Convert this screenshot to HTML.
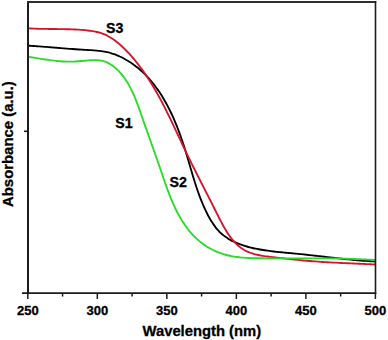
<!DOCTYPE html>
<html><head><meta charset="utf-8"><style>
html,body{margin:0;padding:0;background:#fff;}
body{width:388px;height:340px;overflow:hidden;}
svg{display:block;font-family:"Liberation Sans",sans-serif;font-weight:bold;}
text{stroke:#000;stroke-width:0.3px;}
</style></head><body>
<svg width="388" height="340" viewBox="0 0 388 340">
<rect width="388" height="340" fill="#fff"/>
<g fill="none" stroke-linejoin="round" stroke-linecap="round" stroke-width="1.85">
<path d="M28.01,45.61 C28.50,45.64 29.98,45.74 30.97,45.80 C31.95,45.87 32.94,45.94 33.93,46.01 C34.92,46.08 35.91,46.16 36.90,46.23 C37.89,46.30 38.88,46.38 39.87,46.45 C40.86,46.53 41.85,46.60 42.84,46.68 C43.83,46.76 44.83,46.84 45.82,46.92 C46.81,46.99 47.80,47.07 48.80,47.15 C49.79,47.23 50.79,47.31 51.78,47.39 C52.78,47.47 53.77,47.55 54.77,47.63 C55.77,47.71 56.76,47.79 57.76,47.87 C58.76,47.95 59.75,48.03 60.75,48.11 C61.75,48.19 62.75,48.27 63.74,48.35 C64.74,48.43 65.74,48.51 66.74,48.58 C67.74,48.66 68.74,48.74 69.74,48.81 C70.74,48.89 71.74,48.96 72.74,49.03 C73.74,49.11 74.74,49.18 75.74,49.25 C76.74,49.32 77.74,49.39 78.74,49.46 C79.74,49.53 80.74,49.59 81.75,49.66 C82.75,49.72 83.75,49.79 84.75,49.85 C85.75,49.91 86.76,49.97 87.76,50.02 C88.76,50.08 89.76,50.14 90.76,50.20 C91.76,50.26 92.76,50.33 93.76,50.40 C94.76,50.47 95.75,50.55 96.75,50.64 C97.74,50.73 98.73,50.82 99.72,50.94 C100.71,51.05 101.70,51.18 102.68,51.32 C103.66,51.47 104.63,51.63 105.61,51.82 C106.58,52.01 107.55,52.23 108.51,52.47 C109.47,52.71 110.43,52.98 111.38,53.27 C112.33,53.56 113.28,53.87 114.22,54.21 C115.16,54.54 116.09,54.90 117.01,55.28 C117.94,55.66 118.86,56.06 119.76,56.48 C120.67,56.90 121.57,57.34 122.47,57.79 C123.36,58.25 124.24,58.72 125.11,59.21 C125.99,59.70 126.85,60.21 127.70,60.72 C128.56,61.24 129.40,61.78 130.23,62.33 C131.06,62.87 131.88,63.43 132.69,64.00 C133.50,64.58 134.30,65.16 135.09,65.76 C135.87,66.35 136.65,66.96 137.42,67.58 C138.18,68.20 138.94,68.83 139.68,69.47 C140.42,70.11 141.16,70.76 141.88,71.42 C142.60,72.08 143.32,72.76 144.02,73.44 C144.72,74.12 145.41,74.82 146.10,75.52 C146.78,76.22 147.45,76.94 148.12,77.66 C148.78,78.38 149.43,79.11 150.08,79.85 C150.72,80.59 151.36,81.34 151.98,82.10 C152.61,82.86 153.22,83.63 153.83,84.40 C154.44,85.18 155.04,85.96 155.63,86.75 C156.22,87.54 156.80,88.34 157.37,89.15 C157.94,89.96 158.50,90.77 159.06,91.59 C159.61,92.41 160.16,93.24 160.70,94.08 C161.24,94.91 161.77,95.76 162.29,96.60 C162.81,97.45 163.33,98.31 163.84,99.17 C164.34,100.03 164.84,100.89 165.33,101.77 C165.82,102.64 166.31,103.52 166.79,104.40 C167.26,105.28 167.73,106.17 168.19,107.06 C168.66,107.96 169.11,108.86 169.56,109.76 C170.01,110.66 170.45,111.57 170.89,112.48 C171.32,113.39 171.75,114.30 172.17,115.22 C172.59,116.14 173.01,117.06 173.42,117.99 C173.83,118.91 174.23,119.84 174.63,120.77 C175.03,121.70 175.42,122.64 175.80,123.58 C176.19,124.51 176.57,125.45 176.94,126.39 C177.32,127.34 177.68,128.28 178.05,129.23 C178.41,130.17 178.77,131.12 179.12,132.07 C179.47,133.02 179.82,133.97 180.16,134.92 C180.51,135.87 180.85,136.82 181.18,137.77 C181.51,138.73 181.84,139.68 182.16,140.63 C182.49,141.59 182.81,142.54 183.12,143.49 C183.44,144.45 183.75,145.40 184.06,146.35 C184.36,147.31 184.67,148.26 184.96,149.21 C185.26,150.16 185.56,151.11 185.85,152.06 C186.14,153.01 186.43,153.96 186.72,154.91 C187.00,155.85 187.28,156.80 187.56,157.74 C187.84,158.69 188.12,159.63 188.40,160.57 C188.68,161.52 188.95,162.46 189.22,163.40 C189.50,164.34 189.77,165.28 190.05,166.22 C190.32,167.16 190.59,168.10 190.87,169.04 C191.14,169.98 191.42,170.92 191.69,171.85 C191.97,172.79 192.25,173.73 192.53,174.66 C192.81,175.60 193.09,176.54 193.37,177.47 C193.66,178.41 193.94,179.34 194.23,180.28 C194.52,181.21 194.82,182.15 195.11,183.08 C195.41,184.02 195.71,184.95 196.02,185.89 C196.33,186.82 196.64,187.76 196.95,188.69 C197.27,189.63 197.59,190.57 197.92,191.50 C198.25,192.44 198.58,193.37 198.93,194.31 C199.27,195.25 199.61,196.18 199.97,197.12 C200.33,198.06 200.69,198.99 201.06,199.93 C201.43,200.87 201.81,201.81 202.20,202.75 C202.59,203.69 202.99,204.63 203.39,205.57 C203.80,206.51 204.22,207.45 204.64,208.39 C205.07,209.33 205.51,210.28 205.96,211.21 C206.40,212.15 206.86,213.08 207.34,214.01 C207.81,214.93 208.29,215.85 208.79,216.76 C209.28,217.67 209.79,218.57 210.31,219.46 C210.83,220.35 211.37,221.23 211.92,222.09 C212.47,222.95 213.03,223.80 213.61,224.63 C214.19,225.45 214.78,226.27 215.39,227.06 C216.00,227.85 216.63,228.62 217.27,229.36 C217.91,230.11 218.57,230.83 219.25,231.53 C219.92,232.23 220.62,232.90 221.33,233.54 C222.04,234.18 222.77,234.80 223.51,235.39 C224.25,235.99 225.01,236.55 225.79,237.10 C226.57,237.64 227.36,238.16 228.16,238.66 C228.97,239.16 229.79,239.64 230.62,240.09 C231.45,240.55 232.30,240.99 233.16,241.41 C234.01,241.83 234.89,242.23 235.77,242.61 C236.65,243.00 237.55,243.36 238.45,243.71 C239.35,244.07 240.27,244.40 241.20,244.73 C242.12,245.05 243.06,245.36 244.00,245.66 C244.94,245.95 245.89,246.24 246.85,246.51 C247.81,246.78 248.78,247.04 249.75,247.29 C250.72,247.54 251.70,247.77 252.68,248.00 C253.67,248.22 254.66,248.44 255.65,248.64 C256.64,248.85 257.64,249.05 258.64,249.23 C259.64,249.42 260.65,249.60 261.65,249.77 C262.66,249.94 263.67,250.10 264.68,250.25 C265.69,250.41 266.70,250.56 267.70,250.70 C268.71,250.84 269.72,250.97 270.73,251.10 C271.74,251.23 272.75,251.35 273.75,251.47 C274.76,251.59 275.77,251.71 276.77,251.82 C277.77,251.93 278.78,252.03 279.78,252.14 C280.78,252.24 281.79,252.34 282.79,252.44 C283.79,252.53 284.79,252.63 285.79,252.72 C286.79,252.82 287.78,252.91 288.78,253.00 C289.78,253.09 290.77,253.19 291.77,253.28 C292.77,253.37 293.76,253.46 294.76,253.55 C295.75,253.65 296.74,253.74 297.73,253.84 C298.73,253.93 299.72,254.03 300.71,254.13 C301.70,254.23 302.69,254.33 303.68,254.43 C304.67,254.54 305.66,254.64 306.64,254.75 C307.63,254.85 308.62,254.96 309.61,255.07 C310.59,255.18 311.58,255.29 312.57,255.40 C313.55,255.51 314.54,255.62 315.52,255.73 C316.51,255.84 317.49,255.96 318.48,256.07 C319.46,256.18 320.45,256.30 321.43,256.41 C322.42,256.53 323.40,256.64 324.38,256.75 C325.37,256.87 326.35,256.98 327.34,257.10 C328.32,257.21 329.30,257.33 330.29,257.44 C331.27,257.55 332.26,257.67 333.24,257.78 C334.23,257.89 335.21,258.00 336.20,258.11 C337.18,258.22 338.17,258.33 339.16,258.44 C340.14,258.55 341.13,258.66 342.12,258.77 C343.10,258.87 344.09,258.98 345.08,259.08 C346.07,259.18 347.06,259.29 348.05,259.39 C349.04,259.49 350.03,259.59 351.02,259.68 C352.01,259.78 353.00,259.87 353.99,259.97 C354.99,260.06 355.98,260.15 356.98,260.24 C357.97,260.32 358.97,260.41 359.96,260.49 C360.96,260.57 361.96,260.65 362.96,260.73 C363.95,260.81 364.95,260.88 365.96,260.95 C366.96,261.02 367.96,261.09 368.96,261.15 C369.97,261.22 370.97,261.28 371.98,261.34 C372.99,261.40 374.50,261.47 375.00,261.50" stroke="#000"/>
<path d="M28.00,28.30 C28.50,28.32 29.98,28.42 30.97,28.47 C31.96,28.52 32.95,28.57 33.94,28.61 C34.93,28.65 35.93,28.69 36.92,28.72 C37.91,28.75 38.90,28.78 39.90,28.81 C40.89,28.83 41.89,28.86 42.88,28.88 C43.88,28.90 44.87,28.91 45.87,28.93 C46.87,28.94 47.86,28.95 48.86,28.97 C49.86,28.98 50.86,28.99 51.86,29.00 C52.86,29.01 53.86,29.02 54.86,29.03 C55.86,29.04 56.86,29.05 57.86,29.06 C58.86,29.07 59.86,29.09 60.86,29.10 C61.86,29.11 62.87,29.13 63.87,29.15 C64.87,29.17 65.87,29.19 66.88,29.21 C67.88,29.24 68.88,29.26 69.89,29.29 C70.89,29.33 71.90,29.36 72.90,29.40 C73.90,29.44 74.91,29.48 75.91,29.53 C76.92,29.58 77.92,29.64 78.93,29.70 C79.93,29.76 80.94,29.83 81.94,29.90 C82.95,29.98 83.96,30.06 84.96,30.15 C85.96,30.25 86.96,30.35 87.96,30.47 C88.95,30.58 89.95,30.71 90.93,30.86 C91.92,31.01 92.90,31.17 93.88,31.36 C94.85,31.55 95.82,31.75 96.78,31.98 C97.74,32.20 98.69,32.45 99.63,32.73 C100.57,33.01 101.50,33.31 102.42,33.64 C103.33,33.97 104.24,34.33 105.13,34.72 C106.02,35.11 106.90,35.53 107.77,35.98 C108.63,36.43 109.48,36.91 110.33,37.42 C111.17,37.92 111.99,38.45 112.81,39.00 C113.63,39.55 114.43,40.13 115.23,40.72 C116.02,41.32 116.81,41.93 117.58,42.56 C118.35,43.19 119.11,43.84 119.87,44.50 C120.62,45.16 121.36,45.84 122.10,46.53 C122.83,47.21 123.55,47.91 124.27,48.62 C124.99,49.32 125.69,50.04 126.39,50.76 C127.09,51.48 127.79,52.21 128.47,52.94 C129.15,53.67 129.83,54.41 130.50,55.15 C131.17,55.90 131.83,56.65 132.48,57.40 C133.13,58.16 133.78,58.92 134.42,59.68 C135.06,60.45 135.69,61.22 136.32,61.99 C136.94,62.77 137.56,63.55 138.17,64.33 C138.78,65.12 139.39,65.91 139.99,66.71 C140.59,67.50 141.18,68.30 141.76,69.10 C142.35,69.91 142.93,70.72 143.51,71.53 C144.08,72.34 144.65,73.16 145.21,73.98 C145.77,74.80 146.33,75.63 146.88,76.46 C147.43,77.29 147.98,78.12 148.52,78.96 C149.06,79.79 149.60,80.63 150.13,81.48 C150.66,82.32 151.18,83.17 151.70,84.02 C152.22,84.87 152.74,85.72 153.25,86.58 C153.76,87.44 154.27,88.30 154.77,89.16 C155.27,90.03 155.77,90.89 156.27,91.76 C156.76,92.63 157.25,93.50 157.74,94.38 C158.23,95.25 158.71,96.13 159.19,97.00 C159.67,97.88 160.14,98.77 160.61,99.65 C161.09,100.53 161.55,101.42 162.02,102.30 C162.49,103.19 162.95,104.08 163.41,104.97 C163.87,105.86 164.32,106.76 164.78,107.65 C165.23,108.55 165.68,109.44 166.13,110.34 C166.58,111.24 167.03,112.14 167.47,113.04 C167.92,113.94 168.36,114.84 168.80,115.74 C169.24,116.64 169.68,117.54 170.12,118.45 C170.55,119.35 170.99,120.26 171.42,121.16 C171.85,122.07 172.29,122.97 172.72,123.88 C173.15,124.78 173.58,125.69 174.01,126.60 C174.43,127.50 174.86,128.41 175.29,129.32 C175.72,130.23 176.14,131.13 176.57,132.04 C176.99,132.95 177.42,133.85 177.84,134.76 C178.27,135.67 178.69,136.57 179.11,137.48 C179.54,138.38 179.96,139.29 180.39,140.19 C180.81,141.09 181.23,142.00 181.66,142.90 C182.08,143.80 182.51,144.70 182.93,145.60 C183.36,146.50 183.79,147.40 184.21,148.30 C184.64,149.20 185.07,150.09 185.50,150.99 C185.93,151.88 186.36,152.78 186.79,153.67 C187.22,154.56 187.65,155.45 188.09,156.34 C188.52,157.23 188.95,158.12 189.39,159.00 C189.82,159.89 190.26,160.78 190.70,161.66 C191.13,162.55 191.57,163.43 192.01,164.32 C192.45,165.20 192.89,166.08 193.33,166.97 C193.77,167.85 194.21,168.73 194.65,169.62 C195.10,170.50 195.54,171.38 195.98,172.26 C196.43,173.14 196.87,174.03 197.32,174.91 C197.76,175.79 198.21,176.67 198.65,177.55 C199.10,178.44 199.55,179.32 200.00,180.20 C200.45,181.08 200.90,181.97 201.34,182.85 C201.79,183.74 202.25,184.62 202.70,185.51 C203.15,186.39 203.60,187.28 204.05,188.16 C204.50,189.05 204.96,189.94 205.41,190.83 C205.86,191.72 206.32,192.61 206.77,193.50 C207.23,194.39 207.68,195.28 208.14,196.18 C208.59,197.07 209.05,197.97 209.51,198.87 C209.96,199.76 210.42,200.66 210.88,201.56 C211.33,202.46 211.79,203.37 212.25,204.27 C212.71,205.18 213.17,206.08 213.63,206.99 C214.09,207.90 214.55,208.81 215.01,209.73 C215.47,210.64 215.93,211.56 216.39,212.47 C216.85,213.39 217.31,214.31 217.77,215.23 C218.24,216.15 218.70,217.08 219.17,218.00 C219.63,218.92 220.10,219.84 220.58,220.75 C221.06,221.67 221.53,222.58 222.02,223.48 C222.50,224.39 222.99,225.29 223.49,226.18 C223.99,227.07 224.50,227.96 225.01,228.83 C225.52,229.70 226.04,230.57 226.58,231.42 C227.11,232.27 227.65,233.12 228.20,233.94 C228.76,234.77 229.32,235.58 229.90,236.38 C230.47,237.17 231.06,237.95 231.67,238.72 C232.27,239.48 232.89,240.22 233.52,240.95 C234.15,241.67 234.80,242.38 235.46,243.06 C236.13,243.74 236.81,244.40 237.51,245.03 C238.21,245.67 238.92,246.28 239.66,246.86 C240.40,247.45 241.15,248.01 241.93,248.54 C242.71,249.07 243.50,249.57 244.32,250.04 C245.14,250.51 245.98,250.95 246.85,251.36 C247.71,251.77 248.60,252.14 249.50,252.49 C250.41,252.84 251.34,253.16 252.28,253.46 C253.22,253.76 254.18,254.03 255.15,254.29 C256.12,254.54 257.11,254.77 258.10,254.98 C259.09,255.20 260.10,255.39 261.12,255.57 C262.13,255.75 263.15,255.92 264.18,256.07 C265.20,256.23 266.23,256.37 267.27,256.51 C268.30,256.64 269.33,256.77 270.37,256.89 C271.40,257.02 272.43,257.13 273.46,257.25 C274.49,257.37 275.51,257.49 276.53,257.60 C277.55,257.72 278.56,257.83 279.57,257.95 C280.58,258.06 281.59,258.18 282.60,258.29 C283.60,258.40 284.60,258.51 285.60,258.62 C286.59,258.74 287.59,258.85 288.58,258.95 C289.57,259.06 290.56,259.17 291.55,259.27 C292.54,259.38 293.52,259.48 294.51,259.59 C295.49,259.69 296.47,259.79 297.46,259.89 C298.44,259.99 299.42,260.09 300.40,260.18 C301.38,260.28 302.36,260.37 303.34,260.46 C304.32,260.55 305.30,260.64 306.28,260.73 C307.26,260.82 308.24,260.90 309.23,260.98 C310.21,261.07 311.19,261.15 312.18,261.23 C313.16,261.30 314.15,261.38 315.14,261.45 C316.13,261.52 317.12,261.59 318.11,261.66 C319.10,261.73 320.09,261.80 321.08,261.86 C322.07,261.93 323.07,261.99 324.06,262.05 C325.06,262.11 326.05,262.17 327.05,262.22 C328.04,262.28 329.04,262.34 330.04,262.39 C331.04,262.45 332.04,262.50 333.04,262.55 C334.03,262.60 335.03,262.65 336.03,262.70 C337.03,262.75 338.03,262.80 339.04,262.85 C340.04,262.89 341.04,262.94 342.04,262.99 C343.04,263.03 344.04,263.08 345.04,263.12 C346.05,263.17 347.05,263.21 348.05,263.26 C349.05,263.30 350.05,263.34 351.05,263.39 C352.06,263.43 353.06,263.47 354.06,263.52 C355.06,263.56 356.06,263.61 357.06,263.65 C358.06,263.69 359.06,263.74 360.06,263.78 C361.06,263.83 362.06,263.87 363.06,263.92 C364.06,263.96 365.05,264.01 366.05,264.06 C367.05,264.10 368.04,264.15 369.04,264.20 C370.03,264.25 371.03,264.30 372.02,264.35 C373.02,264.40 374.50,264.48 375.00,264.50" stroke="#d2152a"/>
<path d="M28.01,56.80 C28.49,56.88 29.92,57.10 30.89,57.25 C31.85,57.40 32.81,57.56 33.78,57.71 C34.75,57.86 35.73,58.02 36.70,58.17 C37.68,58.33 38.66,58.48 39.64,58.63 C40.62,58.78 41.61,58.93 42.59,59.08 C43.58,59.23 44.57,59.37 45.57,59.51 C46.56,59.65 47.55,59.79 48.55,59.93 C49.55,60.06 50.55,60.19 51.55,60.31 C52.55,60.43 53.55,60.55 54.56,60.66 C55.56,60.77 56.57,60.88 57.57,60.98 C58.58,61.07 59.59,61.17 60.60,61.24 C61.61,61.32 62.62,61.40 63.63,61.46 C64.64,61.51 65.65,61.56 66.66,61.59 C67.67,61.63 68.68,61.65 69.69,61.65 C70.71,61.65 71.72,61.63 72.73,61.60 C73.74,61.57 74.75,61.52 75.76,61.46 C76.77,61.40 77.78,61.33 78.79,61.25 C79.80,61.17 80.81,61.08 81.82,60.99 C82.82,60.90 83.83,60.80 84.83,60.71 C85.84,60.62 86.84,60.52 87.84,60.44 C88.84,60.36 89.84,60.27 90.84,60.21 C91.83,60.16 92.82,60.11 93.80,60.09 C94.79,60.08 95.77,60.08 96.74,60.12 C97.70,60.17 98.67,60.24 99.62,60.36 C100.57,60.49 101.51,60.65 102.44,60.87 C103.37,61.09 104.29,61.36 105.20,61.69 C106.10,62.02 107.00,62.41 107.87,62.84 C108.75,63.27 109.61,63.76 110.45,64.28 C111.30,64.80 112.13,65.37 112.93,65.97 C113.74,66.56 114.53,67.20 115.30,67.85 C116.07,68.51 116.82,69.20 117.55,69.90 C118.27,70.60 118.97,71.32 119.65,72.06 C120.33,72.79 120.99,73.55 121.63,74.31 C122.26,75.07 122.87,75.85 123.47,76.64 C124.07,77.43 124.64,78.23 125.20,79.04 C125.75,79.85 126.29,80.68 126.82,81.52 C127.34,82.35 127.85,83.20 128.34,84.05 C128.83,84.91 129.31,85.77 129.78,86.65 C130.24,87.52 130.69,88.40 131.14,89.30 C131.58,90.19 132.01,91.08 132.43,91.99 C132.85,92.89 133.26,93.81 133.67,94.72 C134.07,95.64 134.47,96.57 134.85,97.50 C135.24,98.42 135.62,99.36 135.99,100.30 C136.37,101.23 136.73,102.18 137.09,103.12 C137.45,104.07 137.81,105.01 138.16,105.96 C138.51,106.91 138.85,107.87 139.20,108.82 C139.54,109.77 139.88,110.73 140.21,111.69 C140.55,112.64 140.88,113.60 141.22,114.55 C141.55,115.51 141.88,116.46 142.21,117.41 C142.54,118.36 142.87,119.32 143.20,120.26 C143.53,121.21 143.86,122.16 144.19,123.10 C144.52,124.05 144.85,124.99 145.18,125.93 C145.51,126.87 145.84,127.81 146.17,128.75 C146.51,129.68 146.84,130.62 147.17,131.55 C147.50,132.49 147.83,133.42 148.16,134.35 C148.49,135.29 148.83,136.22 149.16,137.15 C149.49,138.08 149.82,139.01 150.15,139.94 C150.48,140.87 150.81,141.80 151.15,142.72 C151.48,143.65 151.81,144.58 152.14,145.51 C152.47,146.44 152.80,147.37 153.13,148.30 C153.46,149.23 153.79,150.16 154.12,151.09 C154.45,152.02 154.78,152.95 155.11,153.88 C155.44,154.81 155.76,155.74 156.09,156.68 C156.42,157.61 156.75,158.55 157.07,159.48 C157.40,160.42 157.73,161.36 158.05,162.30 C158.38,163.24 158.71,164.18 159.03,165.12 C159.35,166.07 159.68,167.01 160.00,167.96 C160.33,168.91 160.65,169.86 160.97,170.81 C161.29,171.76 161.62,172.71 161.94,173.67 C162.26,174.62 162.59,175.57 162.91,176.53 C163.24,177.48 163.57,178.44 163.90,179.40 C164.22,180.35 164.56,181.31 164.89,182.26 C165.22,183.22 165.56,184.17 165.90,185.13 C166.24,186.08 166.58,187.03 166.92,187.99 C167.27,188.94 167.62,189.89 167.97,190.83 C168.32,191.78 168.68,192.73 169.04,193.67 C169.41,194.61 169.77,195.55 170.15,196.49 C170.52,197.43 170.90,198.36 171.28,199.29 C171.67,200.22 172.06,201.15 172.46,202.07 C172.85,202.99 173.26,203.91 173.67,204.82 C174.08,205.74 174.50,206.65 174.93,207.55 C175.35,208.45 175.79,209.35 176.23,210.25 C176.67,211.14 177.12,212.03 177.58,212.91 C178.05,213.79 178.51,214.66 178.99,215.53 C179.47,216.40 179.96,217.26 180.46,218.11 C180.96,218.96 181.47,219.81 181.99,220.65 C182.51,221.49 183.04,222.32 183.59,223.14 C184.13,223.96 184.68,224.78 185.25,225.58 C185.82,226.39 186.39,227.18 186.99,227.97 C187.58,228.75 188.18,229.53 188.80,230.30 C189.41,231.06 190.04,231.82 190.68,232.56 C191.33,233.30 191.98,234.03 192.65,234.75 C193.32,235.47 194.01,236.18 194.70,236.87 C195.40,237.57 196.11,238.25 196.84,238.91 C197.57,239.58 198.31,240.23 199.07,240.87 C199.83,241.51 200.60,242.13 201.39,242.74 C202.17,243.34 202.98,243.94 203.80,244.51 C204.62,245.09 205.45,245.65 206.30,246.19 C207.15,246.73 208.02,247.25 208.89,247.76 C209.77,248.27 210.66,248.75 211.56,249.22 C212.45,249.69 213.36,250.14 214.28,250.57 C215.20,251.00 216.12,251.42 217.06,251.81 C217.99,252.20 218.93,252.57 219.87,252.92 C220.81,253.26 221.76,253.59 222.71,253.90 C223.67,254.20 224.62,254.49 225.58,254.75 C226.53,255.01 227.49,255.26 228.46,255.48 C229.42,255.70 230.39,255.91 231.35,256.10 C232.32,256.29 233.29,256.46 234.27,256.61 C235.24,256.77 236.22,256.91 237.19,257.04 C238.17,257.16 239.15,257.28 240.13,257.38 C241.12,257.48 242.10,257.57 243.09,257.65 C244.07,257.72 245.06,257.79 246.05,257.85 C247.04,257.91 248.03,257.96 249.03,258.00 C250.02,258.05 251.01,258.08 252.01,258.11 C253.01,258.14 254.00,258.17 255.00,258.19 C256.00,258.21 257.00,258.23 258.00,258.24 C259.01,258.26 260.01,258.27 261.01,258.28 C262.02,258.29 263.02,258.30 264.03,258.31 C265.03,258.32 266.04,258.33 267.04,258.34 C268.05,258.35 269.06,258.35 270.07,258.36 C271.07,258.36 272.08,258.37 273.09,258.37 C274.10,258.37 275.11,258.38 276.12,258.38 C277.13,258.38 278.14,258.38 279.15,258.38 C280.15,258.39 281.16,258.39 282.17,258.39 C283.18,258.39 284.19,258.38 285.20,258.38 C286.21,258.38 287.22,258.38 288.23,258.38 C289.23,258.38 290.24,258.38 291.25,258.37 C292.25,258.37 293.26,258.37 294.27,258.37 C295.27,258.37 296.28,258.36 297.28,258.36 C298.28,258.36 299.29,258.36 300.29,258.35 C301.29,258.35 302.29,258.35 303.29,258.35 C304.29,258.35 305.29,258.35 306.28,258.34 C307.28,258.34 308.28,258.34 309.27,258.34 C310.27,258.34 311.26,258.34 312.26,258.34 C313.25,258.34 314.25,258.34 315.24,258.35 C316.23,258.35 317.23,258.35 318.22,258.35 C319.21,258.36 320.20,258.36 321.19,258.37 C322.18,258.37 323.18,258.38 324.17,258.38 C325.16,258.39 326.15,258.40 327.14,258.41 C328.13,258.41 329.12,258.42 330.11,258.44 C331.10,258.45 332.09,258.46 333.08,258.47 C334.07,258.48 335.06,258.50 336.05,258.51 C337.04,258.53 338.03,258.55 339.02,258.56 C340.01,258.58 341.00,258.60 341.99,258.62 C342.99,258.64 343.98,258.67 344.97,258.69 C345.96,258.72 346.96,258.74 347.95,258.77 C348.94,258.80 349.94,258.83 350.93,258.86 C351.93,258.89 352.92,258.92 353.92,258.96 C354.92,258.99 355.91,259.03 356.91,259.07 C357.91,259.11 358.91,259.15 359.91,259.19 C360.91,259.23 361.91,259.28 362.91,259.33 C363.92,259.37 364.92,259.42 365.92,259.47 C366.93,259.53 367.93,259.58 368.94,259.64 C369.95,259.69 370.96,259.75 371.97,259.81 C372.98,259.87 374.50,259.97 375.00,260.00" stroke="#28dc28"/>
</g>
<g stroke="#1c1c1c" fill="none">
<line x1="28" y1="1" x2="28" y2="294" stroke-width="2"/>
<line x1="27" y1="2.1" x2="376.2" y2="2.1" stroke-width="2" stroke="#2e2e2e"/>
<line x1="375.5" y1="1" x2="375.5" y2="294" stroke-width="1.6"/>
<line x1="22" y1="293.1" x2="376.2" y2="293.1" stroke-width="1.6"/>
<line x1="24" y1="131.3" x2="28" y2="131.3" stroke-width="1.6"/>
<g stroke-width="1.5"><line x1="27.80" y1="293" x2="27.80" y2="299.00"/><line x1="62.56" y1="293" x2="62.56" y2="296.50"/><line x1="97.32" y1="293" x2="97.32" y2="299.00"/><line x1="132.08" y1="293" x2="132.08" y2="296.50"/><line x1="166.84" y1="293" x2="166.84" y2="299.00"/><line x1="201.60" y1="293" x2="201.60" y2="296.50"/><line x1="236.36" y1="293" x2="236.36" y2="299.00"/><line x1="271.12" y1="293" x2="271.12" y2="296.50"/><line x1="305.88" y1="293" x2="305.88" y2="299.00"/><line x1="340.64" y1="293" x2="340.64" y2="296.50"/><line x1="375.40" y1="293" x2="375.40" y2="299.00"/></g>
</g>
<g font-size="13" fill="#000"><text x="27.80" y="314.9" text-anchor="middle">250</text><text x="97.32" y="314.9" text-anchor="middle">300</text><text x="166.84" y="314.9" text-anchor="middle">350</text><text x="236.36" y="314.9" text-anchor="middle">400</text><text x="305.88" y="314.9" text-anchor="middle">450</text><text x="375.40" y="314.9" text-anchor="middle">500</text></g>
<text x="142.5" y="336" font-size="14.8" fill="#000">Wavelength (nm)</text>
<text transform="translate(13,207) rotate(-90)" font-size="14.9" fill="#000">Absorbance (a.u.)</text>
<text x="106.1" y="33.3" font-size="14.2" fill="#000">S3</text>
<text x="115.2" y="128" font-size="14.2" fill="#000">S1</text>
<text x="169.6" y="187.2" font-size="14.2" fill="#000">S2</text>
</svg>
</body></html>
